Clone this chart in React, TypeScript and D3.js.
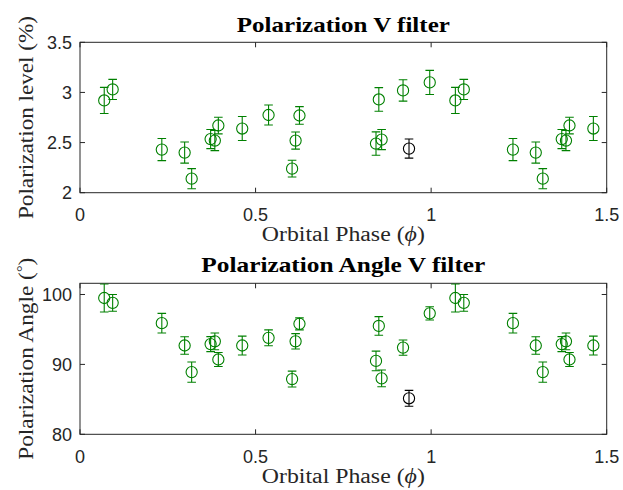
import React, { useEffect, useRef } from 'react';
import * as d3 from 'd3';

// orbital phase of each observation (folded, shown again at phase + 1)
const phase = [0.069, 0.093, 0.233, 0.298, 0.318, 0.372, 0.384, 0.394, 0.462, 0.537, 0.604, 0.614, 0.625, 0.843, 0.851, 0.859, 0.92, 0.996];
const polLevel = [2.92, 3.03, 2.43, 2.4, 2.14, 2.535, 2.52, 2.67, 2.64, 2.775, 2.24, 2.52, 2.77, 2.49, 2.93, 2.53, 3.02, 3.1];
const polLevelErr = [0.13, 0.1, 0.11, 0.105, 0.1, 0.095, 0.1, 0.083, 0.12, 0.1, 0.083, 0.085, 0.088, 0.117, 0.118, 0.1, 0.107, 0.12];
const polAngle = [99.5, 98.8, 95.9, 92.7, 88.9, 92.9, 93.3, 90.7, 92.7, 93.8, 87.9, 93.3, 95.8, 90.5, 95.5, 88.0, 92.4, 97.3];
const polAngleErr = [2.0, 1.2, 1.4, 1.25, 1.45, 1.07, 1.2, 1.0, 1.35, 1.14, 1.14, 1.1, 0.86, 1.4, 1.33, 1.2, 1.1, 0.95];

// the single odd (black) measurement
const extraPhase = [0.937];
const extraLevel = [2.44];
const extraLevelErr = [0.095];
const extraAngle = [85.15];
const extraAngleErr = [1.14];

const xTicks = [0, 0.5, 1, 1.5];
const levelTicks = [2, 2.5, 3, 3.5];
const angleTicks = [80, 90, 100];

const W = 623;
const H = 490;
const SERIF = '"Liberation Serif", "DejaVu Serif", serif';
const SANS = '"Liberation Sans", Arial, sans-serif';

type Pt = { x: number; y: number; e: number };

const fold = (xs: number[], ys: number[], es: number[]): Pt[] => {
  const out: Pt[] = [];
  xs.forEach((x, i) => {
    [x, x + 1].forEach(px => {
      if (px <= 1.5) out.push({ x: px, y: ys[i], e: es[i] });
    });
  });
  return out;
};

export default function App() {
  const svgRef = useRef<SVGSVGElement>(null);

  useEffect(() => {
    if (!svgRef.current) return;
    const svg = d3.select(svgRef.current);
    svg.selectAll('*').remove();

    svg.append('rect').attr('width', W).attr('height', H).attr('fill', '#fff');

    const x = d3.scaleLinear().domain([0, 1.5]).range([80, 606.7]);

    const panels = [
      {
        top: 42.3, bottom: 192.7, domain: [2, 3.5], ticks: levelTicks,
        title: 'Polarization V filter', titleLen: 213, titleY: 31.5,
        ylabel: ['Polarization level (%)'], ylabelLen: 203,
        main: fold(phase, polLevel, polLevelErr),
        extra: fold(extraPhase, extraLevel, extraLevelErr),
      },
      {
        top: 283.3, bottom: 434.3, domain: [80, 101.6], ticks: angleTicks,
        title: 'Polarization Angle V filter', titleLen: 284, titleY: 272.3,
        ylabel: ['Polarization Angle (', '°', ')'], ylabelLen: 202,
        main: fold(phase, polAngle, polAngleErr),
        extra: fold(extraPhase, extraAngle, extraAngleErr),
      },
    ];

    panels.forEach((p, pi) => {
      const y = d3.scaleLinear().domain(p.domain).range([p.bottom, p.top]);
      const g = svg.append('g');
      const x0 = x.range()[0];
      const x1 = x.range()[1];
      const axisCol = '#262626';
      const tl = 5;

      const clipId = `clip${pi}`;
      g.append('clipPath').attr('id', clipId)
        .append('rect').attr('x', x0).attr('y', p.top).attr('width', x1 - x0).attr('height', p.bottom - p.top);

      // ticks (inside, mirrored on top/right)
      xTicks.forEach(t => {
        const px = x(t);
        g.append('line').attr('x1', px).attr('x2', px).attr('y1', p.bottom).attr('y2', p.bottom - tl)
          .attr('stroke', axisCol);
        g.append('line').attr('x1', px).attr('x2', px).attr('y1', p.top).attr('y2', p.top + tl)
          .attr('stroke', axisCol);
        g.append('text').attr('x', px).attr('y', p.bottom + 28.5)
          .attr('text-anchor', 'middle').attr('font-family', SANS).attr('font-size', 18)
          .attr('fill', axisCol).text(String(t));
      });
      p.ticks.forEach(t => {
        const py = y(t);
        g.append('line').attr('x1', x0).attr('x2', x0 + tl).attr('y1', py).attr('y2', py).attr('stroke', axisCol);
        g.append('line').attr('x1', x1).attr('x2', x1 - tl).attr('y1', py).attr('y2', py).attr('stroke', axisCol);
        g.append('text').attr('x', x0 - 8).attr('y', py + 6.3)
          .attr('text-anchor', 'end').attr('font-family', SANS).attr('font-size', 18)
          .attr('fill', axisCol).text(String(t));
      });

      g.append('rect').attr('x', x0).attr('y', p.top).attr('width', x1 - x0).attr('height', p.bottom - p.top)
        .attr('fill', 'none').attr('stroke', axisCol).attr('stroke-width', 1);

      const drawSeries = (pts: Pt[], color: string) => {
        const s = g.append('g').attr('clip-path', `url(#${clipId})`)
          .attr('stroke', color).attr('fill', 'none').attr('stroke-width', 1.1);
        pts.forEach(d => {
          const cx = x(d.x);
          const yt = y(d.y + d.e);
          const yb = y(d.y - d.e);
          const cap = 4.3;
          s.append('line').attr('x1', cx).attr('x2', cx).attr('y1', yt).attr('y2', yb);
          s.append('line').attr('x1', cx - cap).attr('x2', cx + cap).attr('y1', yt).attr('y2', yt);
          s.append('line').attr('x1', cx - cap).attr('x2', cx + cap).attr('y1', yb).attr('y2', yb);
          s.append('circle').attr('cx', cx).attr('cy', y(d.y)).attr('r', 5.6);
        });
      };
      drawSeries(p.main, '#008000');
      drawSeries(p.extra, '#000000');

      const cx = (x0 + x1) / 2;
      g.append('text').attr('x', cx).attr('y', p.titleY)
        .attr('text-anchor', 'middle').attr('font-family', SERIF).attr('font-weight', 'bold')
        .attr('font-size', 21).attr('fill', '#000')
        .attr('textLength', p.titleLen).attr('lengthAdjust', 'spacingAndGlyphs')
        .text(p.title);

      const xl = g.append('text').attr('x', cx).attr('y', p.bottom + 48.6)
        .attr('text-anchor', 'middle').attr('font-family', SERIF).attr('font-size', 20)
        .attr('fill', axisCol).attr('textLength', 163).attr('lengthAdjust', 'spacingAndGlyphs');
      xl.append('tspan').text('Orbital Phase (');
      xl.append('tspan').attr('font-style', 'italic').text('ϕ');
      xl.append('tspan').text(')');

      const cy = (p.top + p.bottom) / 2;
      const yl = g.append('text').attr('transform', `translate(33,${cy}) rotate(-90)`)
        .attr('text-anchor', 'middle').attr('font-family', SERIF).attr('font-size', 20)
        .attr('fill', axisCol).attr('textLength', p.ylabelLen).attr('lengthAdjust', 'spacingAndGlyphs');
      p.ylabel.forEach((part, i) => {
        const t = yl.append('tspan').text(part);
        if (part === '°') t.attr('font-size', 14).attr('dy', -6);
        if (i === 2 && p.ylabel.length === 3) t.attr('dy', 6);
      });
    });
  }, []);

  return (
    <svg ref={svgRef} width={W} height={H}
      style={{ position: 'absolute', left: 0, top: 0, display: 'block' }} />
  );
}
